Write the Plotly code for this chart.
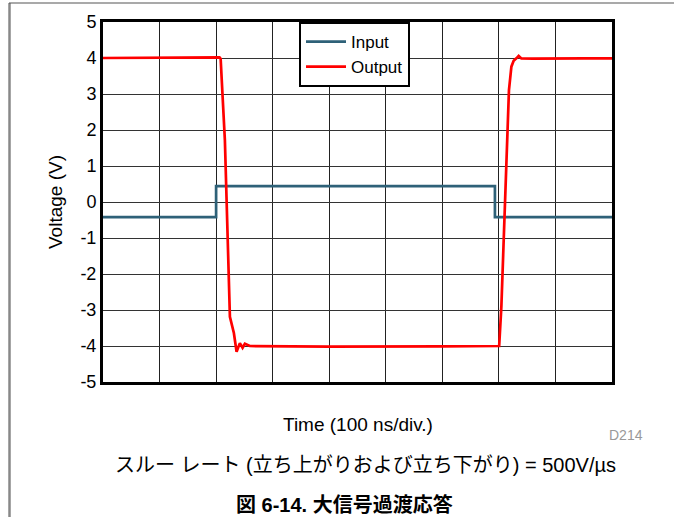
import plotly.graph_objects as go

# Data (time in ns, voltage in V)
t_input = [0, 200, 200, 693, 693, 900]
v_input = [-0.42, -0.42, 0.44, 0.44, -0.42, -0.42]

t_output = [0, 150, 206, 208, 215.5, 224.4, 231.4, 236.2, 242, 246.8, 250.9, 259.7, 400, 600, 700.5,
            704.4, 710.2, 714.3, 717.8, 722.1, 726.1, 730.9, 735, 739.7, 760, 850, 900]
v_output = [4.0, 4.0, 4.02, 3.98, 1.72, -3.19, -3.64, -4.16, -3.92, -4.05, -3.94, -4.0, -4.02, -4.01, -4.0,
            -2.9, -0.13, 1.72, 3.11, 3.76, 3.92, 3.99, 4.06, 3.99, 3.98, 3.99, 3.99]

y_ticks = [-5, -4, -3, -2, -1, 0, 1, 2, 3, 4, 5]

FONT = "Liberation Sans, Arial, Noto Sans CJK JP"

fig = go.Figure()
fig.add_trace(go.Scatter(x=t_input, y=v_input, mode="lines", name="Input",
                         line=dict(color="#2E6178", width=2.7)))
fig.add_trace(go.Scatter(x=t_output, y=v_output, mode="lines", name="Output",
                         line=dict(color="#FF0000", width=2.7)))

L, R, T, B = 103, 612, 22, 382
W, H = 674, 517
pw, ph = R - L, B - T

def px(x):
    return (x - L) / pw

def py(y):
    return (B - y) / ph

fig.update_layout(
    width=W, height=H,
    margin=dict(l=L, r=W - R, t=T, b=H - B),
    paper_bgcolor="white", plot_bgcolor="white",
    font=dict(family=FONT, size=18, color="black"),
    showlegend=True,
    legend=dict(x=px(299), y=1.0, xanchor="left", yanchor="top",
                bgcolor="white", bordercolor="black", borderwidth=2,
                font=dict(size=17, color="black"),
                tracegroupgap=0, itemwidth=40),
    xaxis=dict(range=[0, 900], dtick=100, tick0=0, showticklabels=False,
               showgrid=True, gridcolor="#222", gridwidth=1, zeroline=False,
               showline=True, linecolor="black", linewidth=3, mirror=True, ticks=""),
    yaxis=dict(range=[-5, 5], tickvals=y_ticks, ticktext=[str(v) for v in y_ticks],
               showgrid=True, gridcolor="#333", gridwidth=1, zeroline=False,
               showline=True, linecolor="black", linewidth=3, mirror=True, ticks="",
               tickfont=dict(size=18, color="black")),
    annotations=[
        dict(text="Voltage (V)", xref="paper", yref="paper", x=px(55), y=0.5,
             textangle=-90, showarrow=False, font=dict(size=19), xanchor="center", yanchor="middle"),
        dict(text="Time (100 ns/div.)", xref="paper", yref="paper", x=px(358), y=py(424),
             showarrow=False, font=dict(size=19), xanchor="center", yanchor="middle"),
        dict(text="D214", xref="paper", yref="paper", x=px(626), y=py(435),
             showarrow=False, font=dict(size=14, color="#999999"), xanchor="center", yanchor="middle"),
        dict(text="スルー レート (立ち上がりおよび立ち下がり) = 500V/µs", xref="paper", yref="paper",
             x=px(365), y=py(465), showarrow=False, font=dict(size=20),
             xanchor="center", yanchor="middle"),
        dict(text="<b>図 6-14. 大信号過渡応答</b>", xref="paper", yref="paper",
             x=px(344), y=py(504), showarrow=False, font=dict(size=20),
             xanchor="center", yanchor="middle"),
    ],
    shapes=[
        dict(type="line", xref="paper", yref="paper", x0=px(9.5), x1=px(9.5), y0=py(3), y1=py(517),
             line=dict(color="#888888", width=2.5)),
        dict(type="line", xref="paper", yref="paper", x0=px(9), x1=px(674), y0=py(3), y1=py(3),
             line=dict(color="#555555", width=1.2)),
    ],
)

fig.write_html("out.html")
